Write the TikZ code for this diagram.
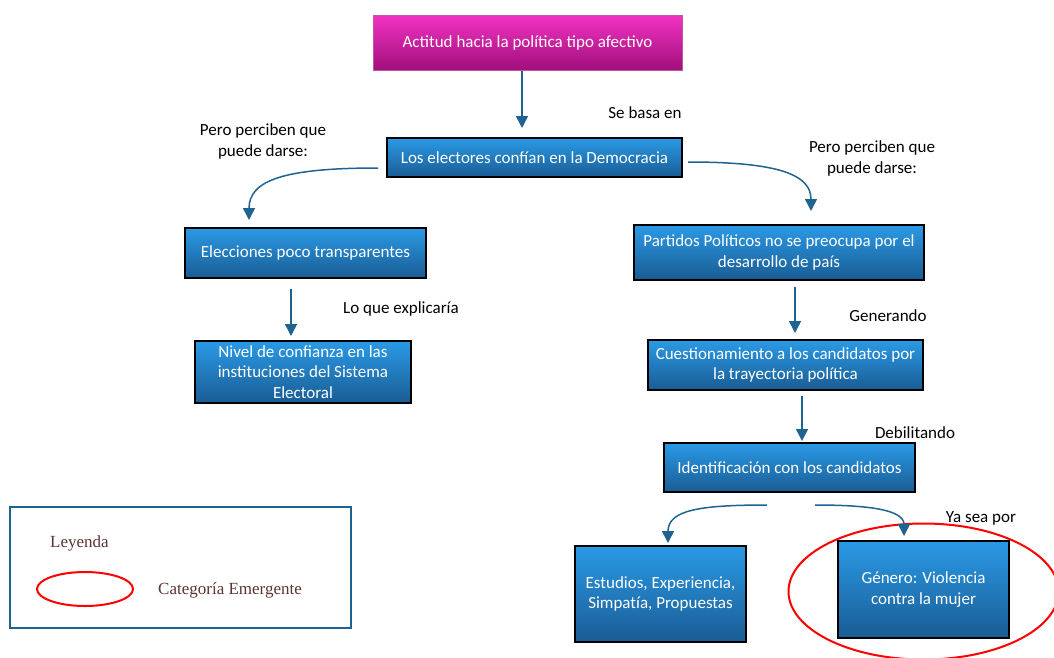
\documentclass[tikz,border=0pt]{standalone}
\usepackage{fontspec}
\setmainfont{Carlito}
\newfontfamily\legfont{Liberation Serif}
\usetikzlibrary{arrows.meta}
\definecolor{arrowblue}{HTML}{1F6391}
\definecolor{boxtop}{HTML}{2A9AE6}
\definecolor{boxbot}{HTML}{1A5C94}
\definecolor{magtop}{HTML}{F232C4}
\definecolor{magbot}{HTML}{A10F7B}
\definecolor{legtext}{HTML}{5B3434}
\tikzset{
  blbox/.style={draw=black, line width=1.8pt, top color=boxtop, bottom color=boxbot,
    text=white, font=\fontsize{17}{20.5}\selectfont, align=center, inner sep=1pt},
  magbox/.style={draw=magbot!70!white, line width=0.6pt, top color=magtop, bottom color=magbot,
    text=white, font=\fontsize{17}{20.5}\selectfont, align=center, inner sep=1pt},
  lbl/.style={font=\fontsize{17}{21}\selectfont, text=black, align=center, inner sep=0pt},
  conn/.style={draw=arrowblue, line width=1.5pt, -{Triangle[width=12pt,length=12pt]}},
  emerg/.style={draw=red, line width=2pt},
}
\begin{document}
\begin{tikzpicture}[x=1pt,y=-1pt]
\useasboundingbox (0,0) rectangle (1054,657);

% boxes
\node[magbox, minimum width=309pt, minimum height=55pt] (act) at (527.5,42.5) {Actitud hacia la política tipo afectivo};
\node[blbox, minimum width=295pt, minimum height=39pt] (dem) at (534.5,157.5) {Los electores confían en la Democracia};
\node[blbox, minimum width=241pt, minimum height=50pt] (ele) at (305.5,253) {Elecciones poco transparentes};
\node[blbox, minimum width=216pt, minimum height=62pt] (niv) at (303,372) {Nivel de confianza en las\\instituciones del Sistema\\Electoral};
\node[blbox, minimum width=290pt, minimum height=55pt] (par) at (779,252.5) {Partidos Políticos no se preocupa por el\\desarrollo de país};
\node[blbox, minimum width=275pt, minimum height=50pt] (cue) at (785.5,365) {Cuestionamiento a los candidatos por\\la trayectoria política};
\node[blbox, minimum width=251pt, minimum height=49pt] (ide) at (789.5,467.5) {Identificación con los candidatos};
\node[blbox, minimum width=171pt, minimum height=96pt] (est) at (660.5,594) {Estudios, Experiencia,\\Simpat\kern0ptía, Propuestas};
\node[blbox, minimum width=171pt, minimum height=97pt] (gen) at (923.5,589.5) {Género: Violencia\\contra la mujer};

% emergent category ellipse
\draw[emerg] (gen.center) ++(0,2) ellipse [x radius=135, y radius=68];

% connectors
\coordinate (a1s) at (522,71);
\coordinate (a1e) at (522,128);
\draw[conn] (a1s) -- (a1e);

\coordinate (c1s) at (378,168);
\coordinate (c1e) at (249,220);
\draw[conn] (c1s) .. controls (285,168) and (249,180) .. (c1e);

\coordinate (c2s) at (688,162);
\coordinate (c2e) at (811,211);
\draw[conn] (c2s) .. controls (780,162) and (811,175) .. (c2e);

\coordinate (a2s) at (291,289);
\coordinate (a2e) at (291,336);
\draw[conn] (a2s) -- (a2e);

\coordinate (a3s) at (795,287);
\coordinate (a3e) at (795,333);
\draw[conn] (a3s) -- (a3e);

\coordinate (a4s) at (802,396);
\coordinate (a4e) at (802,441);
\draw[conn] (a4s) -- (a4e);

\coordinate (c3s) at (767,505);
\coordinate (c3e) at (668,543);
\draw[conn] (c3s) .. controls (700,505) and (668,510) .. (c3e);

\coordinate (c4s) at (815,505);
\coordinate (c4e) at (904,536);
\draw[conn] (c4s) .. controls (870,505) and (904,510) .. (c4e);

% labels
\node[lbl] (l1) at (645,113) {Se basa en};
\node[lbl] (l2) at (263,141) {Pero perciben que\\puede darse:};
\node[lbl] (l3) at (872,158) {Pero perciben que\\puede darse:};
\node[lbl] (l4) at (401,309) {Lo que explicaría};
\node[lbl] (l5) at (888,316) {Generando};
\node[lbl] (l6) at (915,433) {Debilitando};
\node[lbl] (l7) at (981,518) {Ya sea por};

% legend
\node[draw=arrowblue, line width=1.6pt, minimum width=341pt, minimum height=121pt, inner sep=0pt] (leg) at (180.5,567.5) {};
\node[font=\legfont\fontsize{17}{20}\selectfont, text=legtext, anchor=west, inner sep=0pt] (legt) at (50,543) {Leyenda};
\draw[emerg] (85,589) ellipse [x radius=48, y radius=17];
\coordinate (legell) at (85,589);
\node[font=\legfont\fontsize{17}{20}\selectfont, text=legtext, anchor=west, inner sep=0pt] (legc) at (158,590) {Categoría Emergente};
\end{tikzpicture}
\end{document}
